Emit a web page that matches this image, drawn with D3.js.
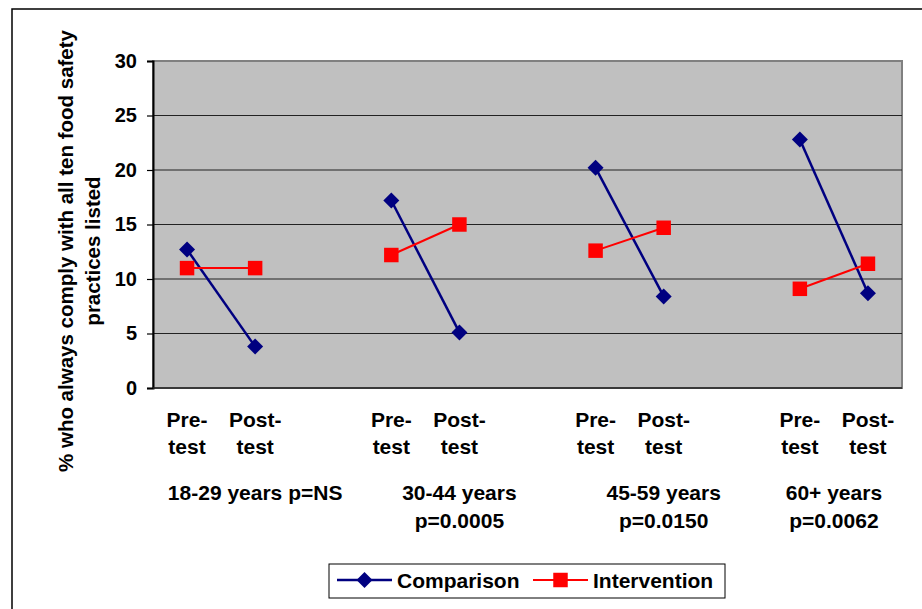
<!DOCTYPE html>
<html>
<head>
<meta charset="utf-8">
<script src="https://cdn.jsdelivr.net/npm/d3@7"></script>
<style>
    body { margin: 0; background: #fff; }
    svg { display: block; }
</style>
</head>
<body>
<div id="chart"></div>
<script>
// Data
const ageGroups = [
    ["18-29 years p=NS"],
    ["30-44 years", "p=0.0005"],
    ["45-59 years", "p=0.0150"],
    ["60+ years", "p=0.0062"]
];
const phaseLabels = [["Pre-", "test"], ["Post-", "test"]];
const seriesNames = ["Comparison", "Intervention"];
const comparison = [12.7, 3.8, 17.2, 5.1, 20.2, 8.4, 22.8, 8.7];
const intervention = [11.0, 11.0, 12.2, 15.0, 12.6, 14.7, 9.1, 11.4];
const yTicks = [0, 5, 10, 15, 20, 25, 30];

document.addEventListener("DOMContentLoaded", () => {
    const width = 922;
    const height = 609;
    const plot = { left: 153, top: 61, right: 902, bottom: 388 };
    const font = "'Liberation Sans', Arial, sans-serif";

    const svg = d3.select("#chart")
        .append("svg")
        .attr("width", width)
        .attr("height", height)
        .style("font-family", font)
        .style("font-weight", "bold");

    // outer chart frame (runs off the right/bottom edge)
    svg.append("rect")
        .attr("x", 12).attr("y", 9)
        .attr("width", 940).attr("height", 640)
        .attr("fill", "#fff")
        .attr("stroke", "#000")
        .attr("stroke-width", 1.5);

    // slots: pre, post, gap, pre, post, gap ...
    const slots = d3.range(ageGroups.length * 3 - 1);
    const x = d3.scaleBand().domain(slots).range([plot.left, plot.right]);
    const cx = i => x(i) + x.bandwidth() / 2;
    const y = d3.scaleLinear().domain([0, 30]).range([plot.bottom, plot.top]);

    // each value's slot index
    const slotOf = i => Math.floor(i / 2) * 3 + (i % 2);

    // plot area
    svg.append("rect")
        .attr("x", plot.left).attr("y", plot.top)
        .attr("width", plot.right - plot.left)
        .attr("height", plot.bottom - plot.top)
        .attr("fill", "#c0c0c0")
        .attr("stroke", "#808080")
        .attr("stroke-width", 2);

    // gridlines
    svg.append("g")
        .selectAll("line")
        .data(yTicks.filter(d => d > 0 && d < 30))
        .join("line")
        .attr("x1", plot.left).attr("x2", plot.right)
        .attr("y1", d => y(d)).attr("y2", d => y(d))
        .attr("stroke", "#222")
        .attr("stroke-width", 1);

    // y axis
    const yAxis = svg.append("g")
        .attr("transform", `translate(${plot.left},0)`)
        .call(d3.axisLeft(y).tickValues(yTicks).tickSize(6).tickPadding(10));
    yAxis.select(".domain").attr("stroke", "#000").attr("stroke-width", 2);
    yAxis.selectAll(".tick line").attr("stroke", "#000").attr("stroke-width", 1.2);
    yAxis.selectAll(".tick text")
        .attr("fill", "#000")
        .style("font-family", font)
        .style("font-weight", "bold")
        .style("font-size", "20px");

    // x axis baseline
    svg.append("line")
        .attr("x1", plot.left).attr("x2", plot.right)
        .attr("y1", plot.bottom).attr("y2", plot.bottom)
        .attr("stroke", "#222")
        .attr("stroke-width", 1.5);

    // x tick labels (Pre-/Post- test)
    const tickLabels = svg.append("g").style("font-size", "21px").attr("text-anchor", "middle");
    comparison.forEach((_, i) => {
        const t = tickLabels.append("text").attr("x", cx(slotOf(i)));
        phaseLabels[i % 2].forEach((line, k) => {
            t.append("tspan")
                .attr("x", cx(slotOf(i)))
                .attr("y", 427 + k * 27)
                .text(line);
        });
    });

    // age group labels, centred under post-test (last one pulled in)
    const groupG = svg.append("g").style("font-size", "21px").attr("text-anchor", "middle");
    ageGroups.forEach((lines, g) => {
        let gx = cx(g * 3 + 1);
        if (g === ageGroups.length - 1) gx -= x.bandwidth() / 2;
        const t = groupG.append("text");
        lines.forEach((line, k) => {
            t.append("tspan")
                .attr("x", gx)
                .attr("y", 500 + k * 28)
                .text(line);
        });
    });

    // series
    const series = [
        { name: seriesNames[0], values: comparison, color: "#000080", width: 2.5,
          symbol: d3.symbol(d3.symbolSquare, 128), rotate: 45 },
        { name: seriesNames[1], values: intervention, color: "#ff0000", width: 2,
          symbol: d3.symbol(d3.symbolSquare, 210), rotate: 0 }
    ];

    series.forEach(s => {
        const g = svg.append("g");
        // one segment per age group
        d3.range(ageGroups.length).forEach(k => {
            const pts = [2 * k, 2 * k + 1];
            g.append("path")
                .datum(pts)
                .attr("fill", "none")
                .attr("stroke", s.color)
                .attr("stroke-width", s.width)
                .attr("d", d3.line()
                    .x(i => cx(slotOf(i)))
                    .y(i => y(s.values[i])));
        });
        g.selectAll(".pt")
            .data(s.values)
            .join("path")
            .attr("class", "pt")
            .attr("transform", (d, i) => `translate(${cx(slotOf(i))},${y(d)}) rotate(${s.rotate})`)
            .attr("d", s.symbol)
            .attr("fill", s.color);
    });

    // y axis title
    svg.append("text")
        .attr("transform", "translate(73,251) rotate(-90)")
        .attr("text-anchor", "middle")
        .style("font-size", "20.5px")
        .selectAll("tspan")
        .data(["% who always comply with all ten food safety", "practices listed"])
        .join("tspan")
        .attr("x", 0)
        .attr("y", (d, i) => i * 27)
        .text(d => d);

    // legend
    const legend = svg.append("g");
    legend.append("rect")
        .attr("x", 329).attr("y", 564)
        .attr("width", 396).attr("height", 34)
        .attr("fill", "#fff")
        .attr("stroke", "#000")
        .attr("stroke-width", 1);

    const legendX = [337, 533];
    series.forEach((s, i) => {
        const lg = legend.append("g").attr("transform", `translate(${legendX[i]},580)`);
        lg.append("line")
            .attr("x1", 0).attr("x2", 55)
            .attr("stroke", s.color)
            .attr("stroke-width", s.width);
        lg.append("path")
            .attr("transform", `translate(27.5,0) rotate(${s.rotate})`)
            .attr("d", s.symbol)
            .attr("fill", s.color);
        lg.append("text")
            .attr("x", 60)
            .attr("y", 8)
            .style("font-size", "21px")
            .text(s.name);
    });
});
</script>
</body>
</html>
